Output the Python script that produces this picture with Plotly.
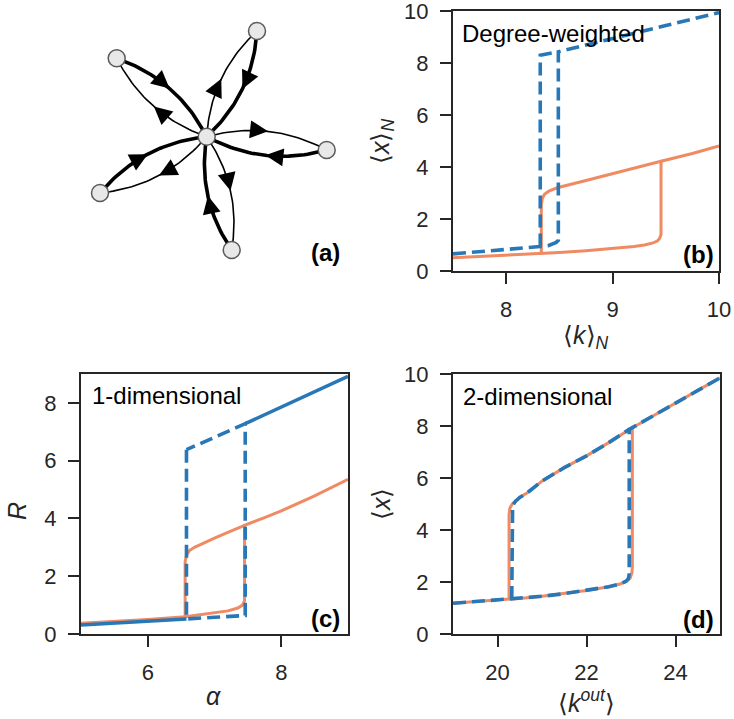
import numpy as np
import plotly.graph_objects as go

W, H = 734, 719
FONT = "Liberation Sans, Arial, Helvetica, sans-serif"
INK = "#262626"
BLUE = "#2878b8"
ORANGE = "#ef8a62"

# ---------------- (a) network layout ----------------
node_x = [206.7, 257.0, 116.7, 326.7, 100.0, 231.7]
node_y = [136.7, 31.0, 58.3, 150.0, 193.0, 250.0]
edge_src = [1, 2, 3, 4, 5, 0, 0, 0, 0, 0]
edge_dst = [0, 0, 0, 0, 0, 1, 2, 3, 4, 5]
edge_kind = ["thick", "thick", "thick", "thick", "thick",
             "thin", "thin", "thin", "thin", "thin"]

# ---------------- (b) degree-weighted ----------------
b_blue_low_x = [7.5, 7.75, 8.0, 8.2, 8.32, 8.4, 8.45, 8.47, 8.49]
b_blue_low_y = [0.66, 0.74, 0.81, 0.88, 0.94, 0.98, 1.05, 1.10, 1.18]
b_blue_up_x = [8.32, 8.49, 8.75, 9.0, 9.25, 9.5, 9.75, 10.0]
b_blue_up_y = [8.30, 8.43, 8.69, 8.95, 9.19, 9.44, 9.69, 9.94]
b_orng_low_x = [7.5, 8.0, 8.33, 8.5, 8.75, 9.0, 9.2, 9.3, 9.38, 9.42, 9.44, 9.455]
b_orng_low_y = [0.51, 0.60, 0.68, 0.71, 0.78, 0.86, 0.94, 1.00, 1.08, 1.15, 1.24, 1.40]
b_orng_up_x = [8.33, 8.34, 8.36, 8.40, 8.48, 8.75, 9.0, 9.25, 9.455, 9.75, 10.0]
b_orng_up_y = [2.55, 2.80, 2.95, 3.07, 3.20, 3.48, 3.74, 4.00, 4.22, 4.52, 4.81]

# ---------------- (c) 1-dimensional ----------------
c_blue_low_x = [5.0, 5.5, 6.0, 6.3, 6.58, 7.0, 7.46]
c_blue_low_y = [0.31, 0.37, 0.43, 0.48, 0.52, 0.58, 0.64]
c_blue_up_x = [6.58, 7.0, 7.46, 8.0, 8.5, 9.0]
c_blue_up_y = [6.38, 6.81, 7.28, 7.85, 8.38, 8.92]
c_orng_low_x = [5.0, 5.5, 6.0, 6.56, 7.0, 7.2, 7.35, 7.42, 7.45]
c_orng_low_y = [0.37, 0.43, 0.50, 0.60, 0.72, 0.80, 0.90, 1.00, 1.15]
c_orng_up_x = [6.56, 6.58, 6.62, 6.7, 6.85, 7.0, 7.2, 7.45, 7.75, 8.0, 8.5, 9.0]
c_orng_up_y = [2.50, 2.72, 2.88, 3.00, 3.17, 3.32, 3.52, 3.76, 4.03, 4.26, 4.78, 5.35]

# ---------------- (d) 2-dimensional ----------------
d_blue_low_x = [19.0, 19.5, 20.0, 20.32, 20.5, 21.0, 21.5, 22.0, 22.5, 22.75, 22.88, 22.94, 22.96]
d_blue_low_y = [1.18, 1.24, 1.30, 1.35, 1.37, 1.45, 1.55, 1.67, 1.82, 1.92, 2.02, 2.12, 2.30]
d_blue_up_x = [20.32, 20.34, 20.4, 20.5, 20.66, 21.0, 21.5, 22.0, 22.5, 22.96, 23.5, 24.0, 24.5, 25.0]
d_blue_up_y = [4.80, 4.95, 5.10, 5.25, 5.42, 5.88, 6.40, 6.85, 7.36, 7.87, 8.40, 8.88, 9.37, 9.85]
d_orng_low_x = [19.0, 19.5, 20.0, 20.26, 20.5, 21.0, 21.5, 22.0, 22.5, 22.75, 22.9, 22.98, 23.02, 23.03]
d_orng_low_y = [1.18, 1.24, 1.30, 1.34, 1.37, 1.45, 1.55, 1.67, 1.82, 1.92, 2.03, 2.15, 2.35, 2.55]
d_orng_up_x = [20.26, 20.28, 20.33, 20.4, 20.5, 20.66, 21.0, 21.5, 22.0, 22.5, 23.03, 23.5, 24.0, 24.5, 25.0]
d_orng_up_y = [4.60, 4.85, 5.00, 5.10, 5.25, 5.42, 5.88, 6.40, 6.85, 7.36, 7.93, 8.40, 8.88, 9.37, 9.85]

panel_text = {"b": "Degree-weighted", "c": "1-dimensional", "d": "2-dimensional"}


# ---------------- helpers ----------------
def hysteresis(low_x, low_y, up_x, up_y):
    """Forward sweep (lower -> jump up -> upper) plus the return jump."""
    x_up = low_x[-1]
    x_dn = up_x[0]
    xs = list(low_x) + [x for x in up_x if x >= x_up]
    ys = list(low_y) + [y for x, y in zip(up_x, up_y) if x >= x_up]
    i = low_x.index(x_dn)
    xs += [None, low_x[i]] + [x for x in up_x if x <= x_up]
    ys += [None, low_y[i]] + [y for x, y in zip(up_x, up_y) if x <= x_up]
    return xs, ys


def px_x(p):
    return p / W


def px_y(p):
    return 1 - p / H


fig = go.Figure()

# ---------------- (a) network ----------------
rad = 0.2
t = np.linspace(0, 1, 40)
edge_lines = {"thick": ([], []), "thin": ([], [])}
arr_x, arr_y, arr_ang = [], [], []
for s, d, k in zip(edge_src, edge_dst, edge_kind):
    x0, y0 = node_x[s], node_y[s]
    x2, y2 = node_x[d], node_y[d]
    dx, dy = x2 - x0, y2 - y0
    # control point: bulge to the left of travel (screen coordinates, y down)
    cx = (x0 + x2) / 2 + rad * dy
    cy = (y0 + y2) / 2 - rad * dx
    bx = (1 - t) ** 2 * x0 + 2 * (1 - t) * t * cx + t ** 2 * x2
    by = (1 - t) ** 2 * y0 + 2 * (1 - t) * t * cy + t ** 2 * y2
    edge_lines[k][0].extend(list(bx) + [None])
    edge_lines[k][1].extend(list(by) + [None])
    ta = 0.5
    ax_ = (1 - ta) ** 2 * x0 + 2 * (1 - ta) * ta * cx + ta ** 2 * x2
    ay_ = (1 - ta) ** 2 * y0 + 2 * (1 - ta) * ta * cy + ta ** 2 * y2
    tx = 2 * (1 - ta) * (cx - x0) + 2 * ta * (x2 - cx)
    ty = 2 * (1 - ta) * (cy - y0) + 2 * ta * (y2 - cy)
    arr_x.append(ax_)
    arr_y.append(ay_)
    arr_ang.append(float(np.degrees(np.arctan2(tx, -ty))))

for k, wdt in (("thin", 1.6), ("thick", 3.6)):
    fig.add_trace(go.Scatter(x=edge_lines[k][0], y=edge_lines[k][1], mode="lines",
                             line=dict(color="black", width=wdt), hoverinfo="skip",
                             showlegend=False, xaxis="x", yaxis="y"))
fig.add_trace(go.Scatter(x=arr_x, y=arr_y, mode="markers",
                         marker=dict(symbol="arrow-up", size=18, color="black",
                                     angle=arr_ang, line=dict(width=0)),
                         hoverinfo="skip", showlegend=False, xaxis="x", yaxis="y"))
fig.add_trace(go.Scatter(x=node_x, y=node_y, mode="markers",
                         marker=dict(size=17, color="#e8e8e8",
                                     line=dict(color="#5a5a5a", width=1.5)),
                         hoverinfo="skip", showlegend=False, xaxis="x", yaxis="y"))

DASH = "13px,6px"

# ---------------- (b) ----------------
xs, ys = hysteresis(b_orng_low_x, b_orng_low_y, b_orng_up_x, b_orng_up_y)
fig.add_trace(go.Scatter(x=xs, y=ys, mode="lines", line=dict(color=ORANGE, width=3),
                         showlegend=False, xaxis="x2", yaxis="y2"))
xs, ys = hysteresis(b_blue_low_x, b_blue_low_y, b_blue_up_x, b_blue_up_y)
fig.add_trace(go.Scatter(x=xs, y=ys, mode="lines",
                         line=dict(color=BLUE, width=3.6, dash=DASH),
                         showlegend=False, xaxis="x2", yaxis="y2"))

# ---------------- (c) ----------------
xs, ys = hysteresis(c_orng_low_x, c_orng_low_y, c_orng_up_x, c_orng_up_y)
fig.add_trace(go.Scatter(x=xs, y=ys, mode="lines", line=dict(color=ORANGE, width=3),
                         showlegend=False, xaxis="x3", yaxis="y3"))
x_dn, x_up = c_blue_up_x[0], c_blue_low_x[-1]
sx = [x for x in c_blue_low_x if x <= x_dn] + [None] + [x for x in c_blue_up_x if x >= x_up]
sy = [y for x, y in zip(c_blue_low_x, c_blue_low_y) if x <= x_dn] + [None] + \
     [y for x, y in zip(c_blue_up_x, c_blue_up_y) if x >= x_up]
fig.add_trace(go.Scatter(x=sx, y=sy, mode="lines", line=dict(color=BLUE, width=3.6),
                         showlegend=False, xaxis="x3", yaxis="y3"))
lo = [(x, y) for x, y in zip(c_blue_low_x, c_blue_low_y) if x_dn <= x <= x_up]
hi = [(x, y) for x, y in zip(c_blue_up_x, c_blue_up_y) if x_dn <= x <= x_up]
loop = [hi[0]] + lo + hi[::-1]
fig.add_trace(go.Scatter(x=[p[0] for p in loop], y=[p[1] for p in loop], mode="lines",
                         line=dict(color=BLUE, width=3.6, dash=DASH),
                         showlegend=False, xaxis="x3", yaxis="y3"))

# ---------------- (d) ----------------
xs, ys = hysteresis(d_orng_low_x, d_orng_low_y, d_orng_up_x, d_orng_up_y)
fig.add_trace(go.Scatter(x=xs, y=ys, mode="lines", line=dict(color=ORANGE, width=3),
                         showlegend=False, xaxis="x4", yaxis="y4"))
xs, ys = hysteresis(d_blue_low_x, d_blue_low_y, d_blue_up_x, d_blue_up_y)
fig.add_trace(go.Scatter(x=xs, y=ys, mode="lines",
                         line=dict(color=BLUE, width=3.6, dash=DASH),
                         showlegend=False, xaxis="x4", yaxis="y4"))

# ---------------- axes ----------------
common = dict(showline=True, mirror=True, linecolor=INK, linewidth=2,
              ticks="outside", ticklen=11, tickwidth=2, tickcolor=INK,
              showgrid=False, zeroline=False, automargin=False,
              tickfont=dict(family=FONT, size=22, color=INK),
              ticklabelstandoff=7, ticklabeloverflow="allow")

fig.update_layout(
    width=W, height=H,
    margin=dict(l=0, r=0, t=0, b=0),
    paper_bgcolor="white", plot_bgcolor="white",
    font=dict(family=FONT, color=INK),
    xaxis=dict(domain=[px_x(60), px_x(360)], range=[60, 360], visible=False),
    yaxis=dict(domain=[px_y(280), px_y(0)], range=[280, 0], visible=False),
    xaxis2=dict(domain=[px_x(453), px_x(719)], range=[7.5, 10], tickvals=[8, 9, 10],
                anchor="y2", **common),
    yaxis2=dict(domain=[px_y(271), px_y(11)], range=[0, 10], tickvals=[0, 2, 4, 6, 8, 10],
                anchor="x2", **common),
    xaxis3=dict(domain=[px_x(81), px_x(348)], range=[5, 9], tickvals=[6, 8],
                anchor="y3", **common),
    yaxis3=dict(domain=[px_y(634), px_y(374)], range=[0, 9], tickvals=[0, 2, 4, 6, 8],
                anchor="x3", **common),
    xaxis4=dict(domain=[px_x(453), px_x(720)], range=[19, 25], tickvals=[20, 22, 24],
                anchor="y4", **common),
    yaxis4=dict(domain=[px_y(634), px_y(374)], range=[0, 10], tickvals=[0, 2, 4, 6, 8, 10],
                anchor="x4", **common),
)

ann = []


def label(text, x, y, xanchor="center", yanchor="middle", size=24, angle=0, color=INK):
    ann.append(dict(text=text, x=px_x(x), y=px_y(y), xref="paper", yref="paper",
                    xanchor=xanchor, yanchor=yanchor, showarrow=False, textangle=angle,
                    font=dict(family=FONT, size=size, color=color)))


# panel letters
label("<b>(a)</b>", 342, 253, xanchor="right", color="black")
label("<b>(b)</b>", 716, 255, xanchor="right", color="black")
label("<b>(c)</b>", 342, 618, xanchor="right", color="black")
label("<b>(d)</b>", 716, 619, xanchor="right", color="black")
# panel titles
label(panel_text["b"], 460, 33, xanchor="left", color="black")
label(panel_text["c"], 90, 395, xanchor="left", color="black")
label(panel_text["d"], 461, 396, xanchor="left", color="black")
# axis titles
label("⟨<i>k</i>⟩<sub><i>N</i></sub>", 586, 337, size=25)
label("⟨<i>x</i>⟩<sub><i>N</i></sub>", 382, 141, size=25, angle=-90)
label("<i>α</i>", 214, 696, size=25)
label("<i>R</i>", 17, 511, size=25, angle=-90)
label("⟨<i>k</i><sup><i>out</i></sup>⟩", 586, 701, size=25)
label("⟨<i>x</i>⟩", 381, 503, size=25, angle=-90)

fig.update_layout(annotations=ann)
fig.write_html("out.html", config={"displayModeBar": False},
               post_script="document.body.style.margin='0px';")
